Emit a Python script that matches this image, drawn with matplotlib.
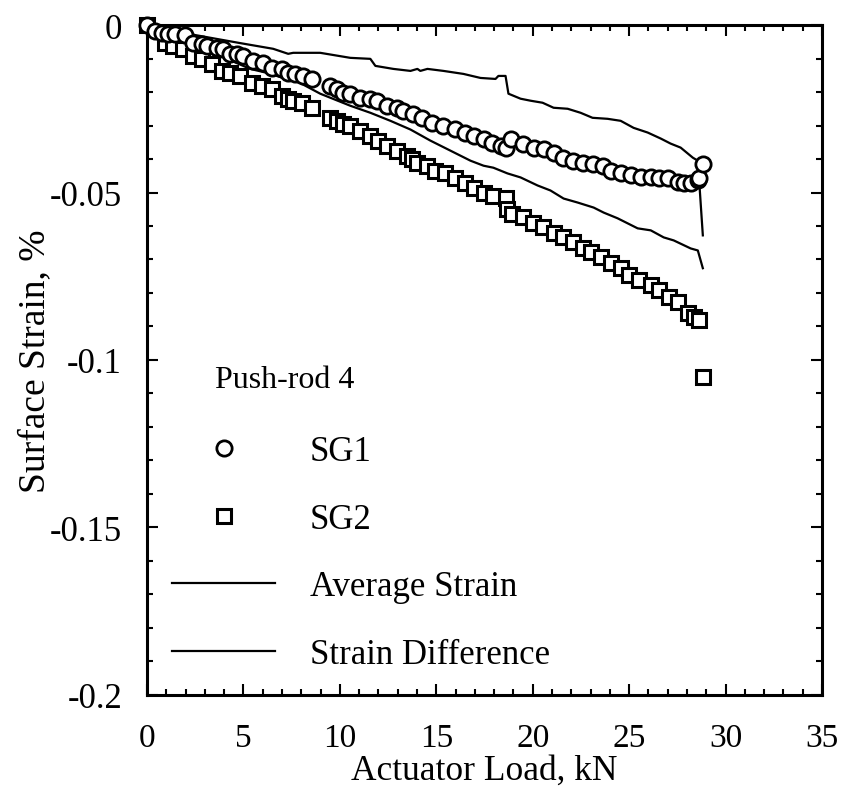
import numpy as np
import matplotlib.pyplot as plt
from matplotlib.ticker import MultipleLocator, FuncFormatter

plt.rcParams['font.family'] = ['Liberation Serif', 'DejaVu Serif']

# SG1 gauge (circles)
sg1_load = [0.0, 0.42, 0.78, 1.09, 1.45, 1.97, 2.39, 2.86, 3.12, 3.63, 3.95, 4.31, 4.67,
            4.98, 5.50, 6.02, 6.49, 7.01, 7.32, 7.68, 8.10, 8.57, 9.50, 9.87, 10.18, 10.54,
            11.06, 11.58, 11.94, 12.46, 12.98, 13.29, 13.81, 14.28, 14.80, 15.37, 15.99,
            16.51, 16.93, 17.45, 17.91, 18.33, 18.59, 18.85, 19.52, 20.04, 20.56, 21.08,
            21.55, 22.07, 22.59, 23.10, 23.62, 24.04, 24.56, 25.08, 25.60, 26.12, 26.53,
            27.00, 27.52, 27.83, 28.19, 28.56, 28.61, 28.82]
sg1_strain = [0.0, -0.0018, -0.0024, -0.0027, -0.0027, -0.0030, -0.0054, -0.0057, -0.0063,
              -0.0068, -0.0071, -0.0086, -0.0086, -0.0092, -0.0107, -0.0113, -0.0128, -0.0131,
              -0.0143, -0.0146, -0.0152, -0.0161, -0.0182, -0.0190, -0.0202, -0.0205, -0.0217,
              -0.0220, -0.0226, -0.0241, -0.0247, -0.0256, -0.0265, -0.0277, -0.0292, -0.0301,
              -0.0310, -0.0321, -0.0330, -0.0339, -0.0351, -0.0360, -0.0366, -0.0339, -0.0354,
              -0.0366, -0.0369, -0.0381, -0.0396, -0.0405, -0.0411, -0.0414, -0.0420, -0.0435,
              -0.0443, -0.0449, -0.0455, -0.0455, -0.0458, -0.0458, -0.0470, -0.0473, -0.0473,
              -0.0464, -0.0458, -0.0414]

# SG2 gauge (squares)
sg2_load = [0.0, 0.93, 1.35, 1.87, 2.39, 2.86, 3.37, 3.89, 4.31, 4.83, 5.45, 5.97, 6.49,
            7.01, 7.32, 7.58, 8.05, 8.57, 9.50, 9.87, 10.18, 10.54, 11.06, 11.58, 11.99,
            12.46, 12.98, 13.50, 13.76, 14.02, 14.54, 14.95, 15.47, 15.99, 16.51, 16.93,
            17.45, 17.96, 18.59, 18.69, 18.95, 19.52, 19.99, 20.51, 21.08, 21.55, 22.07,
            22.59, 23.00, 23.52, 24.04, 24.56, 24.97, 25.49, 26.12, 26.53, 27.05, 27.52,
            28.04, 28.35, 28.61, 28.82]
sg2_strain = [0.0, -0.0054, -0.0063, -0.0071, -0.0092, -0.0101, -0.0116, -0.0137, -0.0143,
              -0.0152, -0.0173, -0.0182, -0.0190, -0.0211, -0.0220, -0.0226, -0.0232, -0.0247,
              -0.0277, -0.0286, -0.0295, -0.0301, -0.0315, -0.0330, -0.0345, -0.0360, -0.0375,
              -0.0390, -0.0399, -0.0411, -0.0420, -0.0435, -0.0443, -0.0458, -0.0473, -0.0488,
              -0.0500, -0.0509, -0.0515, -0.0548, -0.0563, -0.0574, -0.0592, -0.0604, -0.0622,
              -0.0634, -0.0649, -0.0667, -0.0679, -0.0693, -0.0711, -0.0726, -0.0747, -0.0762,
              -0.0777, -0.0792, -0.0812, -0.0827, -0.0860, -0.0872, -0.0881, -0.1051]

# average strain line
avg_load = [0.0, 2.5, 5.35, 6.23, 7.06, 7.94, 8.98, 9.50, 10.54, 11.58, 12.62, 13.66, 14.69,
            16.77, 17.45, 17.96, 18.69, 19.37, 20.25, 20.92, 21.60, 22.33, 23.16, 23.68,
            24.40, 25.44, 26.12, 26.79, 27.31, 28.19, 28.56, 28.82]
avg_strain = [0.0, -0.0060, -0.0131, -0.0143, -0.0158, -0.0173, -0.0205, -0.0217, -0.0241,
              -0.0262, -0.0286, -0.0312, -0.0345, -0.0405, -0.0420, -0.0426, -0.0443, -0.0455,
              -0.0479, -0.0494, -0.0518, -0.0530, -0.0545, -0.0560, -0.0577, -0.0607, -0.0613,
              -0.0634, -0.0643, -0.0667, -0.0673, -0.0726]

# strain difference line
diff_load = [0.0, 2.5, 4.83, 6.54, 7.32, 7.58, 8.98, 10.54, 11.58, 11.84, 12.77, 13.66, 14.02,
             14.17, 14.54, 15.37, 16.41, 17.29, 18.07, 18.22, 18.59, 18.74, 19.37, 19.89,
             20.51, 21.08, 21.81, 22.48, 23.10, 23.88, 24.56, 25.23, 25.96, 26.64, 27.15,
             27.67, 28.30, 28.56, 28.82]
diff_strain = [0.0, -0.0030, -0.0054, -0.0071, -0.0086, -0.0083, -0.0083, -0.0098, -0.0101,
               -0.0122, -0.0131, -0.0137, -0.0131, -0.0137, -0.0131, -0.0137, -0.0146, -0.0158,
               -0.0161, -0.0152, -0.0152, -0.0205, -0.0220, -0.0226, -0.0232, -0.0247, -0.0250,
               -0.0262, -0.0277, -0.0280, -0.0286, -0.0307, -0.0321, -0.0339, -0.0354, -0.0366,
               -0.0396, -0.0405, -0.0628]

fig = plt.figure(figsize=(8.45, 8.03), dpi=100)
ax = fig.add_axes([0.174, 0.1333, 0.7988, 0.8343])

l_avg, = ax.plot(avg_load, avg_strain, color='black', lw=1.6, label='Average Strain')
l_diff, = ax.plot(diff_load, diff_strain, color='black', lw=1.6, label='Strain Difference')
m2, = ax.plot(sg2_load, sg2_strain, ls='none', marker='s', ms=10.5, mfc='white', mec='black',
              mew=2.2, clip_on=False, zorder=3, label='SG2')
m1, = ax.plot(sg1_load, sg1_strain, ls='none', marker='o', ms=11, mfc='white', mec='black',
              mew=2.0, clip_on=False, zorder=4, label='SG1')

ax.set_xlim(0, 35)
ax.set_ylim(-0.2, 0)
ax.xaxis.set_major_locator(MultipleLocator(5))
ax.xaxis.set_minor_locator(MultipleLocator(1))
ax.yaxis.set_major_locator(MultipleLocator(0.05))
ax.yaxis.set_minor_locator(MultipleLocator(0.01))
ax.yaxis.set_major_formatter(FuncFormatter(lambda v, p: '0' if abs(v) < 1e-9 else f'{v:g}'))

ax.tick_params(which='both', direction='in', top=True, right=True, labelsize=25, width=1.5)
ax.tick_params(which='major', length=8)
ax.tick_params(which='minor', length=4)
ax.tick_params(axis='x', pad=20, labelsize=24)
ax.tick_params(axis='y', pad=18)
for s in ax.spines.values():
    s.set_linewidth(2.2)

ax.set_xlabel('Actuator Load, kN', fontsize=25.5, labelpad=0)
ax.set_ylabel('Surface Strain, %', fontsize=27, labelpad=-2)

ax.text(0.10, 0.4716, 'Push-rod 4', transform=ax.transAxes, fontsize=23, va='center', ha='left')
ax.legend(handles=[m1, m2, l_avg, l_diff], loc='upper left', bbox_to_anchor=(0.037, 0.388),
          frameon=False, fontsize=25, numpoints=1, handlelength=2.97, handletextpad=1.0,
          labelspacing=1.0, borderpad=0, borderaxespad=0)

fig.savefig('out.png', dpi=100)
